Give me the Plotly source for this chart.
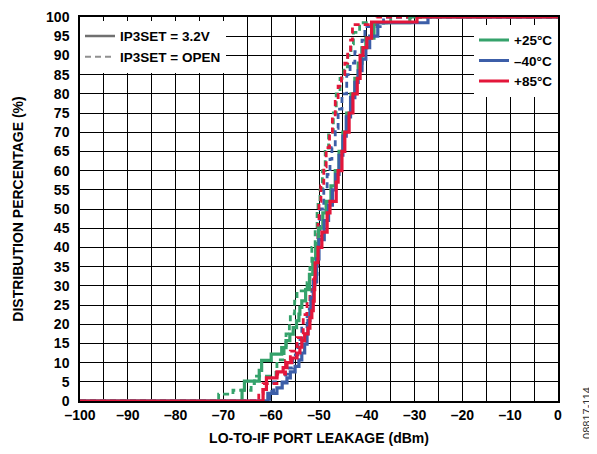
import plotly.graph_objects as go

# CDF step data: leakage (dBm) where each step occurs, and cumulative %
# +25 C
g_solid_x = [-100, -66.1, -65.6, -62.5, -62.0, -60.0, -57.8, -56.9, -56.1, -55.4, -54.7, -54.2, -54.0, -53.6,
             -52.8, -52.0, -51.3, -50.7, -50.1, -49.2, -48.5, -47.5, -46.6, -45.8, -45.0, -44.2, -43.3, -42.5,
             -41.8, -41.0, -40.2, -38.5, -31.0, 0]
g_solid_y = [0, 2.8, 5.2, 8, 10.6, 12.2, 13.9, 15.7, 17.4, 19.1, 20.9, 22.6, 24.4, 26.1,
             29, 33, 37, 41, 45, 49, 52, 56, 60, 65, 70, 75, 80, 84,
             88, 92, 94.5, 98.5, 100, 100]
g_dash_x = [-100, -71.0, -68.0, -64.2, -63.5, -59.0, -58.8, -57.3, -56.9, -56.2, -56.0, -55.1, -54.6, -52.5,
            -51.9, -51.5, -50.8, -50.4, -50.2, -49.8, -49.3, -48.7, -48.0, -47.0, -46.4, -45.6, -44.8, -44.0,
            -43.3, -42.8, -41.5, -35.0, 0]
g_dash_y = [0, 1.8, 2.8, 4.5, 6.5, 8.3, 10.7, 14, 17.5, 20, 22.7, 26, 28.7, 30.8,
            34.7, 40, 45, 49.6, 52, 55, 60, 65, 70, 75, 80, 84, 87, 90,
            93, 96, 98.5, 100, 100]

# -40 C
b_solid_x = [-100, -60.7, -58.8, -57.7, -56.7, -56.0, -55.0, -54.2, -53.6, -53.0, -52.5, -52.3, -51.9, -51.7,
             -51.2, -50.5, -50.0, -48.9, -48.0, -47.2, -46.5, -45.8, -45.0, -44.3, -43.4, -42.5, -41.8, -41.0,
             -40.2, -39.4, -37.7, -27.2, 0]
b_solid_y = [0, 2, 3.4, 4.7, 6, 7.6, 9, 10.7, 12.5, 14.8, 17.5, 21, 23.5, 27,
             31, 37, 42, 47, 51, 55, 59, 64, 69, 74, 79, 83, 86, 89,
             92, 95, 98.5, 100, 100]
b_dash_x = [-100, -60.3, -59.5, -57.0, -56.5, -55.5, -54.4, -53.6, -52.5, -51.5, -50.8, -50.4, -50.2, -49.8,
            -49.0, -48.3, -47.7, -47.3, -46.6, -46.0, -45.2, -44.2, -43.5, -42.5, -41.0, -40.4, -36.5, 0]
b_dash_y = [0, 2.5, 5, 7, 8.6, 12, 16, 19, 24, 29, 33, 38, 43, 50,
            55, 59, 63, 66, 71, 76, 80, 85, 88, 91, 94, 97.5, 100, 100]

# +85 C
r_solid_x = [-100, -61.7, -61.0, -58.8, -57.5, -56.7, -55.7, -54.6, -54.0, -53.6, -53.0, -52.3, -51.9, -51.5,
             -51.2, -51.0, -50.9, -50.8, -50.2, -49.4, -48.3, -47.7, -46.4, -46.0, -45.2, -44.6, -43.7, -42.9,
             -42.0, -41.4, -40.8, -40.0, -39.0, -29.5, 0]
r_solid_y = [0, 3, 6, 7.6, 8.7, 10, 11.2, 12.5, 14, 15.7, 17.5, 19, 21.7, 23.5,
             26, 29, 32, 36, 40, 44, 49, 52, 57, 60, 65, 70, 75, 80,
             84, 90, 92, 94.5, 98.7, 100, 100]
r_dash_x = [-100, -62.6, -61.7, -58.8, -57.0, -56.0, -54.6, -53.3, -52.5, -51.9, -51.2, -50.8, -50.4, -50.2,
            -50.0, -49.6, -49.0, -48.5, -47.8, -47.2, -46.6, -46.0, -45.3, -44.6, -44.0, -43.4, -43.0, -38.0, 0]
r_dash_y = [0, 2, 4.5, 7, 10.5, 13, 16.5, 22.5, 26, 29, 32, 35, 42, 47,
            52, 56, 61, 66, 70, 74, 78, 82, 85, 88, 91, 94, 98, 100, 100]

x_ticks = list(range(-100, 1, 5))
x_tick_labels = [("–" + str(-v) if v < 0 else str(v)) if v % 10 == 0 else "" for v in x_ticks]
y_ticks = list(range(0, 101, 5))

GREEN = "#35a26b"
BLUE = "#3c5ea8"
RED = "#e3163a"
FONT = "Liberation Sans"

fig = go.Figure()

series = [
    (g_dash_x, g_dash_y, GREEN, "6px,4px", 2.8),
    (b_dash_x, b_dash_y, BLUE, "6px,4px", 2.8),
    (r_dash_x, r_dash_y, RED, "6px,4px", 2.8),
    (g_solid_x, g_solid_y, GREEN, "solid", 3.2),
    (b_solid_x, b_solid_y, BLUE, "solid", 3.2),
    (r_solid_x, r_solid_y, RED, "solid", 3.2),
]
for xs, ys, col, dash, w in series:
    fig.add_trace(go.Scatter(x=xs, y=ys, mode="lines", line_shape="hv",
                             line=dict(color=col, dash=dash, width=w),
                             showlegend=False, hoverinfo="skip"))

# legend entries
fig.add_trace(go.Scatter(x=[None], y=[None], mode="lines", name="IP3SET = 3.2V",
                         line=dict(color="#707070", width=2.5), legend="legend"))
fig.add_trace(go.Scatter(x=[None], y=[None], mode="lines", name="IP3SET = OPEN",
                         line=dict(color="#909090", width=2, dash="6px,4px"), legend="legend"))
for name, col in [("+25°C", GREEN), ("–40°C", BLUE), ("+85°C", RED)]:
    fig.add_trace(go.Scatter(x=[None], y=[None], mode="lines", name=name,
                             line=dict(color=col, width=3), legend="legend2"))

legend_font = dict(family=FONT, size=13.5, color="black", weight="bold")
# the page body has an 8px margin, so the figure is 8px smaller than the window
fig.update_layout(
    width=589, height=446,
    margin=dict(l=72, r=39, t=9, b=53),
    paper_bgcolor="white", plot_bgcolor="white",
    font=dict(family=FONT, color="black", size=13),
    legend=dict(x=0, y=0.99, xanchor="left", yanchor="top", bgcolor="white",
                font=legend_font, tracegroupgap=0, itemwidth=30),
    legend2=dict(x=1, y=0.98, xanchor="right", yanchor="top", bgcolor="white",
                 font=legend_font, tracegroupgap=0, itemwidth=30),
)

fig.update_xaxes(
    range=[-100, 0], tickvals=x_ticks, ticktext=x_tick_labels,
    showgrid=True, gridcolor="black", gridwidth=1.2,
    showline=True, linecolor="black", linewidth=1.5, mirror=True,
    ticks="", zeroline=False, automargin=False, ticklabelstandoff=0,
    tickfont=dict(family=FONT, size=14, color="black", weight="bold"),
    title=dict(text="LO-TO-IF PORT LEAKAGE (dBm)", standoff=12,
               font=dict(family=FONT, size=14, color="black", weight="bold")),
)
fig.update_yaxes(
    range=[0, 100], tickvals=y_ticks,
    showgrid=True, gridcolor="black", gridwidth=1.2,
    showline=True, linecolor="black", linewidth=1.5, mirror=True,
    ticks="", zeroline=False, automargin=False, ticklabelstandoff=6,
    tickfont=dict(family=FONT, size=14, color="black", weight="bold"),
    title=dict(text="DISTRIBUTION PERCENTAGE (%)", standoff=19,
               font=dict(family=FONT, size=14, color="black", weight="bold")),
)

fig.add_annotation(text="08817-114", xref="paper", yref="paper", x=1.062, y=-0.032,
                   xanchor="center", yanchor="middle", textangle=-90, showarrow=False,
                   font=dict(family=FONT, size=11, color="#333333"))

fig.write_html("out.html")
